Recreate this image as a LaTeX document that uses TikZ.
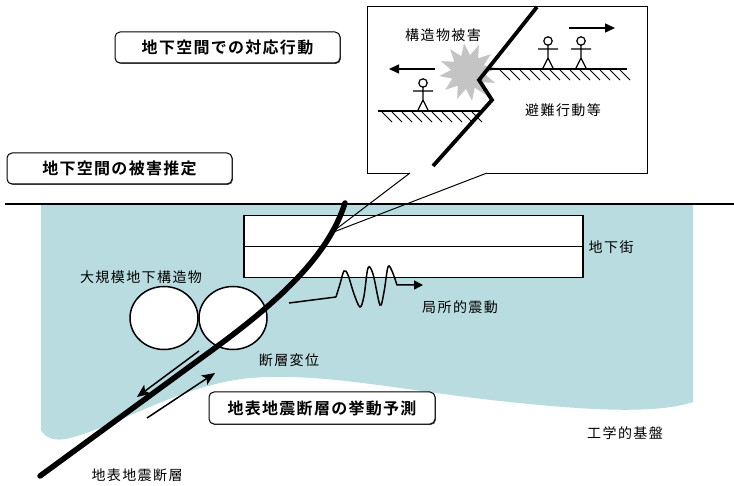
\documentclass[tikz,border=0pt]{standalone}
\usepackage{fontspec}
\newfontfamily\jp[LetterSpace=10]{Noto Sans CJK JP}
\newfontfamily\jpb[LetterSpace=8]{Noto Sans CJK JP Bold}
\usepackage{tikz}
\usetikzlibrary{arrows.meta,positioning,shapes.geometric,shadows}
\definecolor{soil}{HTML}{B9DCE0}
\definecolor{burstgray}{HTML}{C4C4C4}
\tikzset{walker/.pic={
  \draw[line width=1.2pt] (0,-28) circle (4.2);
  \draw[line width=1.2pt] (0,-23.8) -- (0,-11) (-10,-20) -- (10,-20) (-5.5,0) -- (0,-11) -- (5.5,0);
}}

\begin{document}
\begin{tikzpicture}[x=1pt,y=-1pt,
  title/.style={draw,rounded corners=5pt,line width=1pt,fill=white,minimum width=225pt,minimum height=31pt,inner sep=0pt,
    font=\jpb\fontsize{16}{18}\selectfont,drop shadow={shadow xshift=0.9pt,shadow yshift=-0.9pt,fill=black!70,opacity=1}},
  lbl/.style={font=\jp\fontsize{14}{16}\selectfont,inner sep=0pt},
  tube/.style={ellipse,draw,line width=1.5pt,fill=white,minimum width=68pt,minimum height=63pt},
  fault/.style={line width=5.5pt,line cap=round},
  slip/.style={-{Stealth[length=13pt,width=11pt,inset=3pt]},line width=1.5pt},
  move/.style={-{Triangle[length=10pt,width=9pt]},line width=1.5pt},
  hatch/.style={line width=1pt}]
\useasboundingbox (0,0) rectangle (734,486);

% ground and soil layer
\fill[soil] (41,204) -- (693,204) -- (693,402) .. controls (660,413) and (600,412) .. (500,401)
  .. controls (400,390) and (320,372) .. (250,378) .. controls (180,385) and (120,425) .. (70,438)
  .. controls (55,442) and (45,438) .. (41,430) -- cycle;
\coordinate (surfL) at (5,204);
\coordinate (surfR) at (734,204);
\draw[line width=1.5pt] (surfL) -- (surfR);

% underground mall
\node[draw,line width=1.5pt,fill=white,minimum width=339pt,minimum height=62pt,anchor=north west] (mall) at (243,215) {};
\draw[line width=1.5pt] (mall.west) -- (mall.east);
\node[lbl,anchor=west] (malllbl) at ([xshift=5pt]mall.east) {地下街};

% callout box
\node[draw,line width=1pt,fill=white,minimum width=280pt,minimum height=167pt,anchor=north west] (inset) at (367,6) {};
\coordinate (calloutA) at (410,173);
\coordinate (calloutB) at (487,173);
\coordinate (calloutTip) at (331,233);
\draw[white,line width=2pt] (calloutA) -- (calloutB);
\draw[line width=1pt] (calloutA) -- (calloutTip) -- (calloutB);

% large structures
\node[tube] (tubeL) at (164,318) {};
\node[tube] (tubeR) at (233,318) {};
\node[lbl] (structlbl) at (141,277) {大規模地下構造物};

% surface fault
\coordinate (faultBot) at (40,476);
\coordinate (faultTop) at (345,203);
\draw[fault] (faultBot) -- (215,348) .. controls (290,293) and (330,250) .. (faultTop);

% slip along the fault
\coordinate (slipA1) at (199,351);
\coordinate (slipA2) at (137,397);
\coordinate (slipB1) at (147,418);
\coordinate (slipB2) at (215,373);
\draw[slip] (slipA1) -- (slipA2);
\draw[slip] (slipB1) -- (slipB2);

% local shaking
\coordinate (shakeS) at (289,303);
\coordinate (shakeE) at (423,285);
\draw[line width=1.5pt,-{Triangle[length=9pt,width=9pt]}] (shakeS) -- (336,297)
  plot[smooth,tension=0.55] coordinates {(336,297) (340,284) (344,271) (348,275) (354,294) (360,307) (364,296) (368,268) (373,274) (380,305) (384,292) (388,267) (392,271) (397,285)}
  -- (shakeE);

\node[lbl] (shakelbl) at (460,307) {局所的震動};
\node[lbl] (slipdisp) at (289,360) {断層変位};
\node[lbl] (faultlbl) at (137,475) {地表地震断層};
\node[lbl] (baselbl) at (625,433) {工学的基盤};

% titles
\node[title] (tResp) at (227.5,47.5) {地下空間での対応行動};
\node[title] (tDamage) at (119.5,168.5) {地下空間の被害推定};
\node[title,minimum width=226pt,minimum height=32pt] (tFault) at (322,408) {地表地震断層の挙動予測};

% inside the callout
\node[star,star points=12,star point ratio=1.7,fill=burstgray,minimum size=58pt,inner sep=0pt,rotate=8] (burst) at (468,72) {};
\coordinate (gR1) at (488,69);
\coordinate (gR2) at (627,69);
\coordinate (gL1) at (378,111);
\coordinate (gL2) at (482,111);
\draw[line width=1.6pt] (gR1) -- (gR2);
\draw[line width=1.6pt] (gL1) -- (gL2);
\foreach \x in {500,510,...,620} \draw[hatch] (\x,70) -- ++(10,10);
\foreach \x in {382,392,...,472} \draw[hatch] (\x,112) -- ++(10,10);
\draw[line width=3.8pt,line join=miter] (537,7) -- (479,80) -- (492,100) -- (433,166);

\pic at (548,69) {walker};
\pic at (581,69) {walker};
\pic at (423,111) {walker};

\coordinate (runR1) at (569,28);
\coordinate (runR2) at (615,28);
\coordinate (runL1) at (435,69);
\coordinate (runL2) at (389,69);
\draw[move] (runR1) -- (runR2);
\draw[move] (runL1) -- (runL2);

\node[lbl] (damagelbl) at (443,35) {構造物被害};
\node[lbl] (evaclbl) at (563,110) {避難行動等};
\end{tikzpicture}
\end{document}
